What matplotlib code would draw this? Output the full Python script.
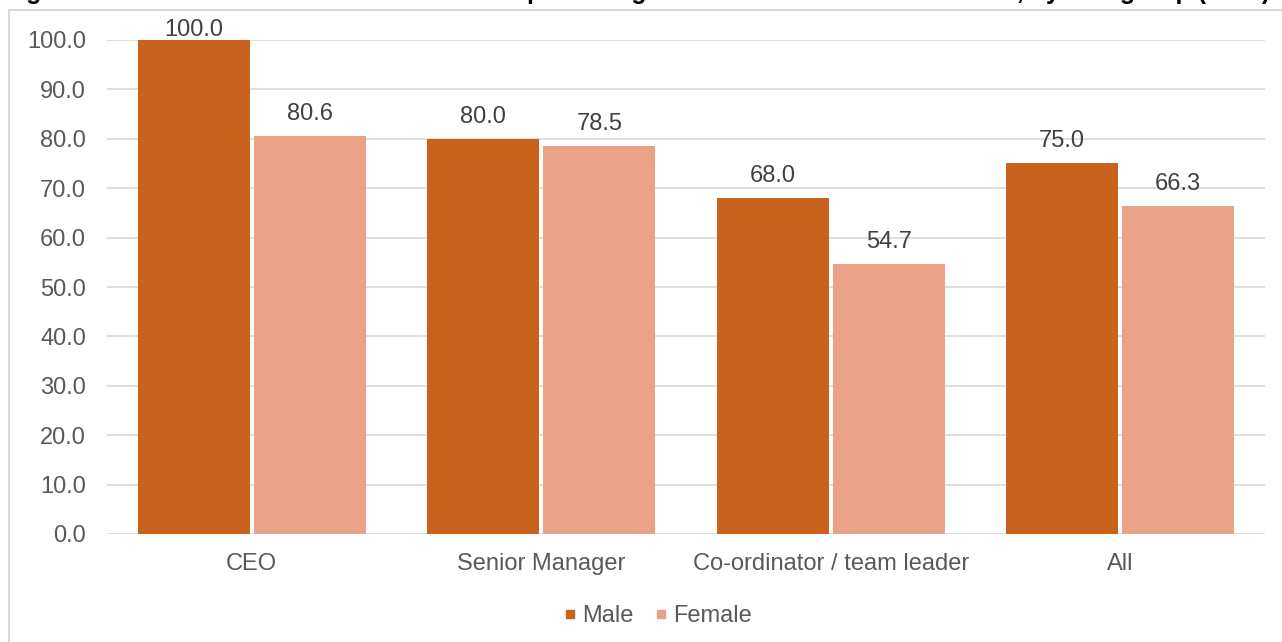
import numpy as np
import matplotlib.pyplot as plt
from matplotlib.lines import Line2D
from matplotlib.patches import Rectangle

# data
categories = ["CEO", "Senior Manager", "Co-ordinator / team leader", "All"]
male = [100.0, 80.0, 68.0, 75.0]
female = [80.6, 78.5, 54.7, 66.3]
series_names = ["Male", "Female"]
yticks = np.arange(0, 101, 10)

title = ("Figure 3: Female median remuneration as a percentage of male "
         "median remuneration, by role group (2018)")

MALE_C = "#C8621C"
FEMALE_C = "#E9A285"
GRID_C = "#D9D9D9"
TEXT_C = "#595959"
FS = 17

plt.rcParams["font.family"] = ["Liberation Sans", "DejaVu Sans"]

fig = plt.figure(figsize=(12.82, 6.42), dpi=100)
W, H = 1282, 642

# chart frame (runs off the right and bottom edges of the crop)
fig.patches.append(Rectangle((9 / W, -0.05), 1.2, 1.05 - 10 / H,
                             transform=fig.transFigure, fill=False,
                             edgecolor=GRID_C, lw=1.5))
# title, mostly cut off above the picture
fig.text(4 / W, 1.0 + 1 / H, title, fontsize=18, fontweight="bold",
         color="black", va="baseline", ha="left")

ax = fig.add_axes([107 / W, (642 - 534) / H, (1265 - 107) / W, (534 - 40) / H])

x = np.arange(len(categories))
bw = 0.387
gap = 0.007
b1 = ax.bar(x - bw / 2 - gap, male, bw, color=MALE_C, zorder=3)
b2 = ax.bar(x + bw / 2 + gap, female, bw, color=FEMALE_C, zorder=3)

ax.set_xlim(-0.5, len(categories) - 0.5)
ax.set_ylim(0, 100)
ax.set_yticks(yticks)
ax.set_yticklabels([f"{v:.1f}" for v in yticks])
ax.set_xticks(x)
ax.set_xticklabels(categories)
ax.tick_params(axis="both", length=0, labelsize=FS, colors=TEXT_C)
ax.tick_params(axis="y", pad=15)
ax.tick_params(axis="x", pad=14)
for s in ax.spines.values():
    s.set_visible(False)
ax.yaxis.grid(True, color=GRID_C, lw=1.2, zorder=0)
ax.set_axisbelow(True)
ax.set_clip_on(False)

# value labels, kept inside the chart frame
px_per_unit = (534 - 40) / 100
for bars, vals in ((b1, male), (b2, female)):
    for rect, v in zip(bars, vals):
        top_px = 534 - v * px_per_unit
        off_px = min(22, top_px - 30)
        ax.annotate(f"{v:.1f}", (rect.get_x() + rect.get_width() / 2, v),
                    xytext=(0, off_px * 72 / 100), textcoords="offset points",
                    ha="center", va="center", fontsize=FS, color="#404040",
                    annotation_clip=False)

handles = [Line2D([], [], marker="s", ls="none", markersize=5.5, color=c)
           for c in (MALE_C, FEMALE_C)]
fig.legend(handles, series_names, loc="center", bbox_to_anchor=(655 / W, (642 - 616) / H),
           ncol=2, frameon=False, fontsize=FS, labelcolor=TEXT_C,
           handletextpad=0.0, columnspacing=0.7, handlelength=1.0)

fig.savefig("out.png", dpi=100)
